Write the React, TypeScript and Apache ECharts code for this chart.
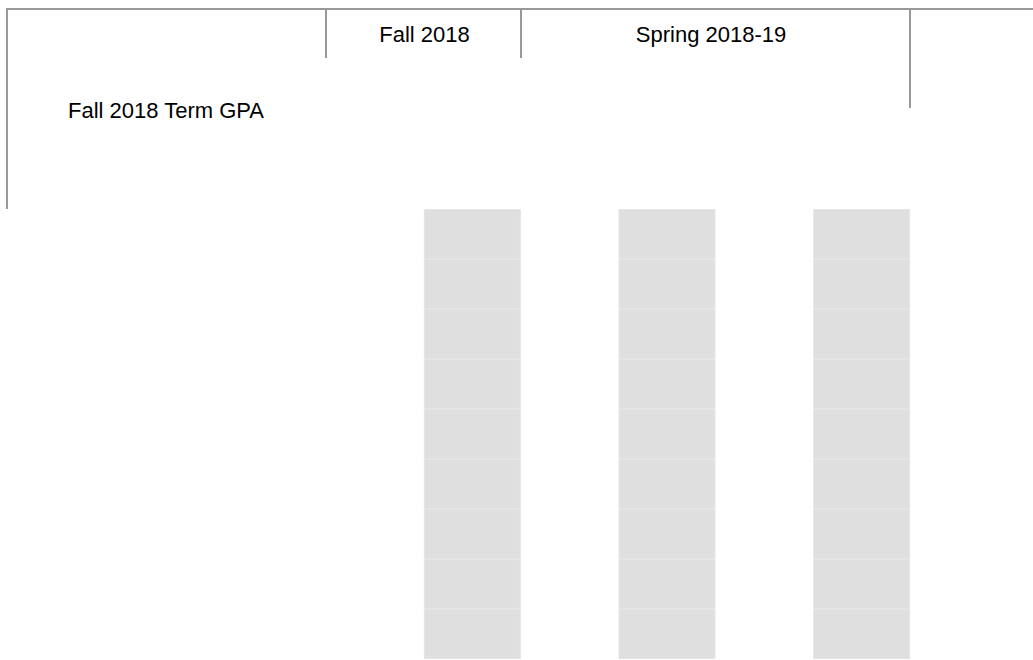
import React, { useEffect, useRef } from "react";
import * as echarts from "echarts";

const columns = ["Column 1", "Column 2", "Column 3"];
const segmentValues = [1, 1, 1, 1, 1, 1, 1, 1, 1];
const headerLabels = ["Fall 2018", "Spring 2018-19"];
const rowLabel = "Fall 2018 Term GPA";

const LINE = "#999999";
const FONT = "'Liberation Sans', Arial, sans-serif";

export default function App() {
  const ref = useRef<HTMLDivElement>(null);
  useEffect(() => {
    if (!ref.current) return;
    const chart = echarts.init(ref.current, null, { renderer: "svg" });
    const series = segmentValues.map((v, i) => ({
      type: "bar",
      name: "seg" + (i + 1),
      stack: "total",
      data: columns.map(() => v),
      barWidth: 97,
      itemStyle: { color: "#dfdfdf", borderColor: "#e4e4e4", borderWidth: 1 },
      emphasis: { disabled: true },
    }));
    const line = (x1: number, y1: number, x2: number, y2: number) => ({
      type: "line",
      shape: { x1, y1, x2, y2 },
      style: { stroke: LINE, lineWidth: 2 },
      z: 10,
    });
    const text = (t: string, x: number, y: number, align: string) => ({
      type: "text",
      x,
      y,
      style: {
        text: t,
        fill: "#000",
        font: `22px ${FONT}`,
        align,
        verticalAlign: "middle",
      },
      z: 10,
    });
    chart.setOption({
      animation: false,
      grid: { left: 375, top: 209, width: 584, height: 450, containLabel: false },
      xAxis: {
        type: "category",
        data: columns,
        show: false,
      },
      yAxis: { type: "value", min: 0, max: 9, show: false },
      series,
      graphic: [
        line(6, 9, 1033, 9),
        line(7, 8, 7, 209),
        line(326, 8, 326, 58),
        line(521, 8, 521, 58),
        line(910, 8, 910, 108),
        text(headerLabels[0], 424.5, 34, "center"),
        text(headerLabels[1], 711, 34, "center"),
        text(rowLabel, 68, 110, "left"),
      ],
    });
    return () => chart.dispose();
  }, []);
  return (
    <div
      ref={ref}
      style={{ position: "fixed", left: 0, top: 0, width: 1033, height: 660, background: "#fff" }}
    />
  );
}
